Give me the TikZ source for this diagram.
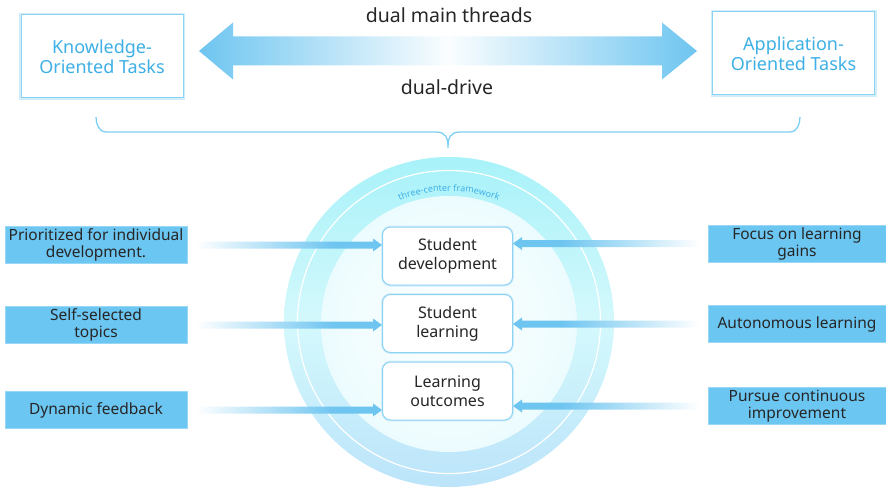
\documentclass[tikz,border=0pt]{standalone}
\usepackage{fontspec}
\setmainfont{Noto Sans}
\usetikzlibrary{calc,decorations.text}
\definecolor{arrowblue}{HTML}{6EC5F0}
\definecolor{sideblue}{HTML}{6CC6F2}
\definecolor{topblue}{HTML}{3EB0E6}
\definecolor{edgeblue}{HTML}{8CD2F3}
\definecolor{ringcyan}{HTML}{A8F2F9}
\definecolor{ringblue}{HTML}{BCE4FA}
\definecolor{braceblue}{HTML}{7CCEF2}
\pgfdeclarehorizontalshading{dualfade}{100bp}{color(0bp)=(arrowblue); color(25bp)=(arrowblue); color(50bp)=(arrowblue!3); color(75bp)=(arrowblue); color(100bp)=(arrowblue)}
\pgfdeclarehorizontalshading{faderight}{100bp}{color(0bp)=(white); color(25bp)=(white); color(62bp)=(arrowblue); color(100bp)=(arrowblue)}
\pgfdeclarehorizontalshading{fadeleft}{100bp}{color(0bp)=(arrowblue); color(38bp)=(arrowblue); color(75bp)=(white); color(100bp)=(white)}
\begin{document}
\begin{tikzpicture}[x=1pt, y=1pt,
  taskbox/.style={draw=edgeblue, line width=1pt, preaction={draw=edgeblue!40, line width=4pt}, fill=white, text=topblue, align=center, minimum width=162pt, minimum height=83pt, font=\fontsize{18}{20}\selectfont},
  centerbox/.style={draw=edgeblue, line width=1pt, rounded corners=8pt, preaction={draw=edgeblue!35, line width=3pt}, fill=white, text=black!85, align=center, minimum width=130pt, minimum height=58pt, inner sep=2pt, font=\fontsize{16}{19}\selectfont},
  sidebox/.style={fill=sideblue, draw=sideblue!70!white, line width=.6pt, text=black!85, align=center, minimum height=37pt, inner sep=2pt, font=\fontsize{15.5}{17}\selectfont}]
  \useasboundingbox (0,0) rectangle (886,491);
  \coordinate (o) at (449,169);
  \coordinate (dl) at (199,440);
  \coordinate (dr) at (697,440);
  % ring of the three centres
  \shade[top color=ringcyan, bottom color=ringblue, middle color=ringcyan!50] (o) circle (165);
  \draw[white, line width=1.2pt] (o) circle (151.5);
  \shade[inner color=white, outer color=ringcyan!22] ($(o)+(0,-2)$) circle (128);
  \path[decorate, decoration={text along path, text align=center, text color=topblue, text={|\fontsize{9}{10}\selectfont|three-center framework}}] ($(o)+(116:131)$) arc (116:64:131);
  % brace
  \draw[braceblue, line width=1.3pt] (96,374) to[out=-90, in=180] (106,359) -- (436,359) .. controls (446,359) and (448,353) .. (448,343) .. controls (448,353) and (450,359) .. (460,359) -- (790,359) to[out=0, in=-90] (800,374);
  \node[taskbox] (kt) at (102,434.5) {Knowledge-\\Oriented Tasks};
  \node[taskbox] (at) at (793.5,437.5) {Application-\\Oriented Tasks};
  \node[text=black!85, font=\fontsize{19.5}{22}\selectfont] (dmt) at (449,476) {dual main threads};
  \node[text=black!85, font=\fontsize{19.5}{22}\selectfont] (dd) at (447,404) {dual-drive};
  \shade[shading=dualfade] (dl) -- ++(34,28.5) -- ++(0,-14) -- ($(dr)+(-35,14.5)$) -- ++(0,14) -- (dr) -- ++(-35,-28.5) -- ++(0,14) -- ($(dl)+(34,-14.5)$) -- ++(0,-14) -- cycle;
  \node[centerbox] (c1) at (447.5,235) {Student\\development};
  \node[centerbox] (c2) at (447.5,167.5) {Student\\learning};
  \node[centerbox] (c3) at (447.5,100) {Learning\\outcomes};
  \node[sidebox, minimum width=182pt] (l1) at (96,246) {Prioritized for individual\\development.};
  \node[sidebox, minimum width=182pt] (l2) at (96,166) {Self-selected\\topics};
  \node[sidebox, minimum width=182pt] (l3) at (96,81) {Dynamic feedback};
  \node[sidebox, minimum width=178pt] (r1) at (797,247.5) {Focus on learning\\gains};
  \node[sidebox, minimum width=178pt] (r2) at (797,167) {Autonomous learning};
  \node[sidebox, minimum width=178pt] (r3) at (797,85) {Pursue continuous\\improvement};
  \foreach \s/\c in {l1/c1, l2/c2, l3/c3}
    \shade[shading=faderight] let \p1=(\s.east), \p2=(\c.west) in (\x1+8pt,\y1+3.5pt) -- (\x2-9pt,\y1+3.5pt) -- (\x2-9pt,\y1+6.5pt) -- (\x2,\y1) -- (\x2-9pt,\y1-6.5pt) -- (\x2-9pt,\y1-3.5pt) -- (\x1+8pt,\y1-3.5pt) -- cycle;
  \foreach \s/\c in {r1/c1, r2/c2, r3/c3}
    \shade[shading=fadeleft] let \p1=(\s.west), \p2=(\c.east) in (\x1-8pt,\y1+3.5pt) -- (\x2+9pt,\y1+3.5pt) -- (\x2+9pt,\y1+6.5pt) -- (\x2,\y1) -- (\x2+9pt,\y1-6.5pt) -- (\x2+9pt,\y1-3.5pt) -- (\x1-8pt,\y1-3.5pt) -- cycle;
\end{tikzpicture}
\end{document}
